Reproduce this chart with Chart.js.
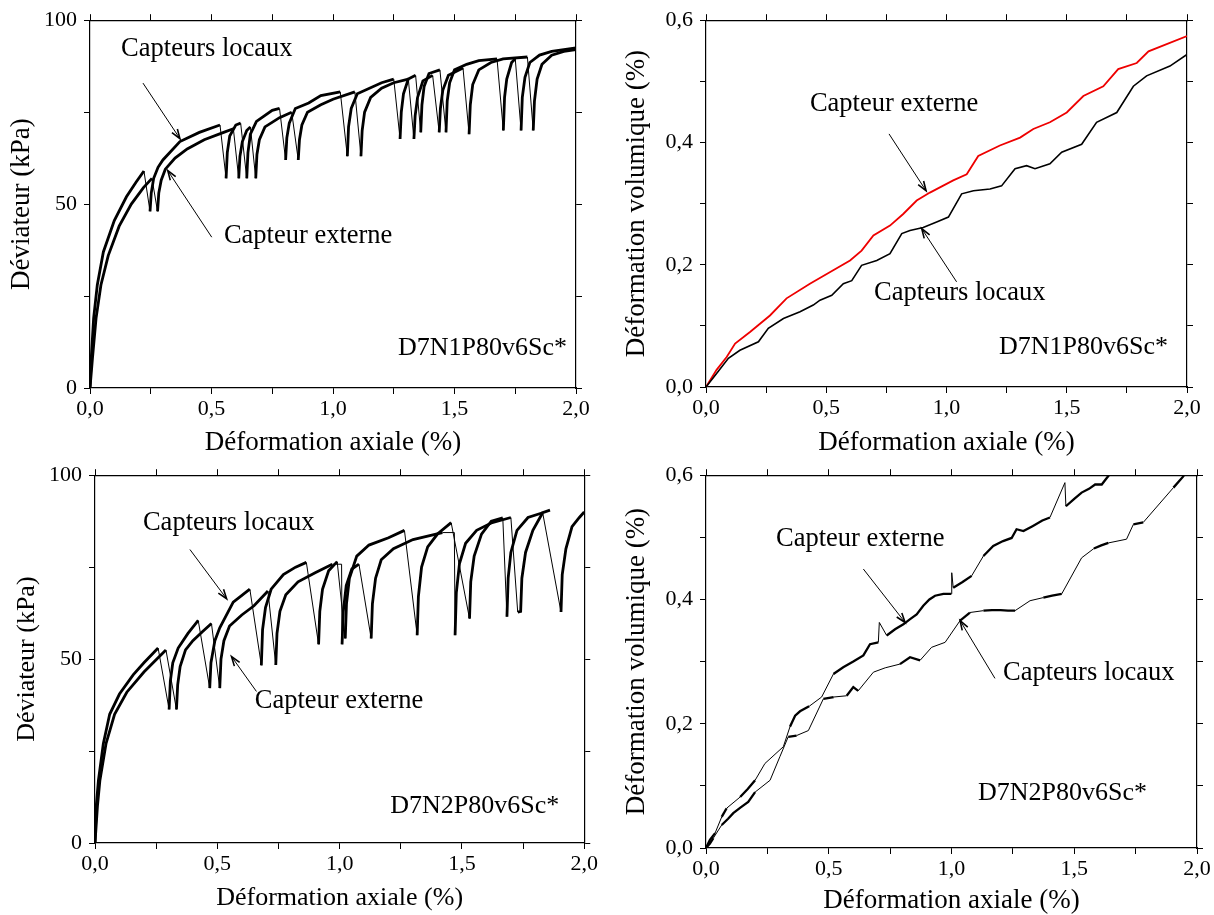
<!DOCTYPE html>
<html lang="fr">
<head>
<meta charset="UTF-8">
<title>Essais cycliques D7N1 / D7N2</title>
<script src="https://cdn.jsdelivr.net/npm/chart.js@4.4.1/dist/chart.umd.min.js"></script>
<style>
  html, body { margin: 0; padding: 0; background: #fff; overflow: hidden; }
  body { width: 1214px; height: 915px; position: relative; }
  canvas { position: absolute; }
</style>
</head>
<body>
<canvas id="c1" width="600" height="460" style="left:0;top:0"></canvas>
<canvas id="c2" width="608" height="460" style="left:606px;top:0"></canvas>
<canvas id="c3" width="600" height="462" style="left:0;top:455px"></canvas>
<canvas id="c4" width="608" height="462" style="left:606px;top:455px"></canvas>

<script>

  // D7N1P80v6Sc* : deviateur (kPa)
  const d1Locaux = [
    [0,0],[0.005,8],[0.015,19],[0.03,28],[0.055,37],[0.1,45.5],[0.15,52],[0.19,56],[0.222,59],
    [0.247,48],[0.252,53],[0.262,57],[0.28,60],[0.3,62],[0.37,67],[0.45,69.5],[0.535,71.5],
    [0.56,57],[0.565,64],[0.575,68.5],[0.6,71.5],[0.62,72],
    [0.645,57],[0.65,64],[0.66,69],[0.685,72.5],[0.75,75.5],[0.78,76],
    [0.805,62],[0.81,68],[0.82,72],[0.845,76],[0.9,77.5],[0.95,79.5],[1.03,80.5],
    [1.059,63],[1.064,71],[1.075,76],[1.1,80],[1.2,83],[1.25,84],
    [1.276,67.7],[1.281,75],[1.29,80],[1.31,84],[1.34,85],
    [1.361,69.5],[1.366,77],[1.375,82],[1.395,85.5],[1.44,86.5],
    [1.465,69.5],[1.47,78],[1.48,83],[1.5,86.5],[1.55,88],[1.6,89],[1.675,89.5],
    [1.701,70],[1.706,79],[1.715,84],[1.735,88.5],[1.75,89.5],
    [1.774,70],[1.779,79],[1.79,84.5],[1.81,88.5],[1.85,90.5],[1.9,91.5],[1.95,92],[2.0,92.5]
  ];
  const d1Externe = [
    [0,0],[0.01,8],[0.025,19],[0.045,28],[0.075,36],[0.12,44],[0.17,50],[0.22,54.5],[0.255,57],
    [0.278,48],[0.283,53],[0.293,56.5],[0.31,59.5],[0.35,62.5],[0.4,65],[0.47,67.5],[0.55,69.5],[0.59,70.5],
    [0.612,57],[0.617,63],[0.627,67],[0.645,70],[0.66,71],
    [0.682,57],[0.687,63.5],[0.697,67.5],[0.72,71],[0.78,73.5],[0.83,75],
    [0.857,62],[0.862,67.5],[0.872,71.5],[0.895,75],[0.95,77],[1.0,78.5],[1.09,80.5],
    [1.115,63],[1.12,70],[1.13,75],[1.155,79],[1.2,81.5],[1.25,83],[1.31,84],
    [1.333,67.7],[1.338,74],[1.348,79],[1.37,83.5],[1.41,85],
    [1.437,69.5],[1.442,76],[1.452,81],[1.475,85],[1.535,87],
    [1.56,69],[1.565,77],[1.575,82.5],[1.6,86.5],[1.65,88.5],[1.7,89.5],[1.8,90],
    [1.824,70],[1.829,78],[1.84,84],[1.86,88],[1.9,90.5],[1.95,91.5],[2.0,92]
  ];

  // D7N1P80v6Sc* : deformation volumique (%)
  const v1Externe = [
    [0,0],[0.044,0.028],[0.086,0.049],[0.121,0.071],[0.183,0.09],[0.266,0.117],[0.335,0.145],
    [0.432,0.169],[0.529,0.191],[0.599,0.207],[0.647,0.223],[0.696,0.248],[0.765,0.264],
    [0.82,0.283],[0.876,0.305],[0.931,0.318],[1.028,0.338],[1.084,0.348],[1.132,0.378],
    [1.222,0.395],[1.306,0.408],[1.361,0.422],[1.43,0.433],[1.5,0.449],[1.569,0.476],
    [1.652,0.492],[1.714,0.52],[1.791,0.53],[1.84,0.549],[2.0,0.574]
  ];
  const v1Locaux = [
    [0,0],[0.044,0.022],[0.093,0.047],[0.141,0.06],[0.218,0.074],[0.259,0.096],[0.322,0.112],
    [0.391,0.123],[0.446,0.134],[0.474,0.142],[0.523,0.15],[0.571,0.169],[0.606,0.174],
    [0.647,0.199],[0.71,0.207],[0.765,0.218],[0.814,0.251],[0.848,0.256],[0.903,0.261],
    [0.959,0.27],[1.008,0.278],[1.063,0.316],[1.112,0.321],[1.181,0.324],[1.229,0.329],
    [1.285,0.357],[1.333,0.362],[1.368,0.357],[1.43,0.365],[1.479,0.384],[1.562,0.397],
    [1.624,0.433],[1.708,0.449],[1.777,0.492],[1.832,0.509],[1.929,0.525],[2.0,0.544]
  ];

  // D7N2P80v6Sc* : deviateur (kPa)
  const d2Locaux = [
    [0,0],[0.005,10],[0.014,17],[0.034,27],[0.06,35],[0.1,40.5],[0.156,45.7],[0.2,49],[0.258,53],
    [0.303,36.3],[0.308,44],[0.318,49],[0.34,53],[0.38,57],[0.422,60.5],
    [0.469,42.1],[0.474,49],[0.49,55],[0.51,58.5],[0.565,65.5],[0.633,69],
    [0.68,48.3],[0.685,58],[0.697,64],[0.72,69],[0.77,73],[0.82,75],[0.864,76.3],
    [0.914,54],[0.919,63],[0.93,69],[0.955,74],[0.99,76.5],
    [1.023,55.6],[1.028,65],[1.04,72],[1.07,78],[1.12,81],[1.2,83],[1.265,85],
    [1.317,56.5],[1.322,67],[1.335,75],[1.36,80.5],[1.4,84],[1.456,87.1],
    [1.531,61],[1.536,71],[1.55,78],[1.58,84],[1.62,87.5],[1.667,88.4],
    [1.684,61.5],[1.689,72],[1.7,79],[1.725,85],[1.77,88.5],[1.83,89.8],
    [1.905,62.8],[1.91,73],[1.925,80],[1.95,86],[1.98,88.5],[2.0,90]
  ];
  const d2Externe = [
    [0,0],[0.01,10],[0.02,17],[0.045,27],[0.08,35],[0.13,41],[0.2,46.5],[0.26,50.5],[0.29,52.5],
    [0.333,36.3],[0.338,43],[0.348,48],[0.37,52.5],[0.4,55],[0.44,57.5],[0.476,59.7],
    [0.51,42.1],[0.515,50],[0.527,55],[0.55,59],[0.6,62],[0.65,64.5],[0.707,68.5],
    [0.739,48.4],[0.744,57],[0.756,63],[0.78,67.5],[0.83,71],[0.9,73.5],[0.97,75.8],[1.008,75.8],
    [1.01,54],[1.015,63],[1.027,70],[1.05,74.5],[1.079,75.8],
    [1.129,55.6],[1.134,65],[1.147,72],[1.17,77],[1.22,80],[1.3,82.5],[1.42,84.4],[1.469,84.4],
    [1.472,56.5],[1.477,68],[1.49,76],[1.515,81.5],[1.56,85],[1.62,87],[1.7,88.5],
    [1.728,62.8],[1.74,63],[1.745,72],[1.76,79],[1.79,85],[1.83,89.8],[1.86,90.5]
  ];

  // D7N2P80v6Sc* : deformation volumique (%)
  const v2Externe = [
    [0,0],[0.016,0.013],[0.037,0.024],[0.064,0.05],[0.084,0.064],[0.139,0.082],[0.17,0.095],
    [0.2,0.109],[0.24,0.136],[0.315,0.163],[0.342,0.195],[0.363,0.213],[0.383,0.22],[0.42,0.228],
    [0.471,0.243],[0.519,0.28],[0.559,0.291],[0.6,0.3],[0.641,0.31],[0.668,0.328],[0.702,0.331],
    [0.706,0.363],[0.736,0.342],[0.77,0.352],[0.804,0.36],[0.83,0.368],[0.858,0.376],[0.885,0.39],
    [0.91,0.4],[0.933,0.406],[0.967,0.409],[0.999,0.409],[1.001,0.443],[1.007,0.419],[1.045,0.428],
    [1.082,0.438],[1.13,0.47],[1.17,0.486],[1.21,0.494],[1.245,0.499],[1.265,0.513],[1.293,0.51],
    [1.33,0.518],[1.37,0.527],[1.401,0.532],[1.462,0.588],[1.466,0.55],[1.5,0.562],[1.53,0.572],
    [1.56,0.578],[1.585,0.585],[1.612,0.585],[1.643,0.601],[1.66,0.62]
  ];
  const v2Locaux = [
    [0,0],[0.016,0.007],[0.03,0.016],[0.064,0.037],[0.09,0.047],[0.111,0.056],[0.14,0.065],
    [0.172,0.074],[0.2,0.09],[0.261,0.109],[0.301,0.147],[0.335,0.179],[0.369,0.181],[0.417,0.189],
    [0.478,0.24],[0.52,0.243],[0.573,0.245],[0.6,0.259],[0.62,0.253],[0.682,0.283],[0.73,0.29],
    [0.79,0.296],[0.831,0.307],[0.872,0.302],[0.919,0.323],[0.974,0.331],[1.035,0.366],[1.075,0.379],
    [1.13,0.382],[1.165,0.383],[1.2,0.383],[1.23,0.382],[1.259,0.382],[1.32,0.398],[1.374,0.403],
    [1.41,0.406],[1.449,0.409],[1.53,0.467],[1.58,0.482],[1.61,0.487],[1.639,0.491],[1.713,0.497],
    [1.741,0.521],[1.781,0.524],[1.904,0.58],[1.944,0.598],[1.95,0.602]
  ];

  const xTicks = ['0,0', '0,5', '1,0', '1,5', '2,0'];

  const SERIF = '"Liberation Serif", "DejaVu Serif", serif';
  Chart.defaults.font.family = SERIF;
  Chart.defaults.color = '#000';

  function pts(arr) { return arr.map(p => ({ x: p[0], y: p[1] })); }
  function fmt1(v) { return v.toFixed(1).replace('.', ','); }

  // unloading parts of a cycle (falling or flat) are drawn thin
  const cycleWidth = ctx => ctx.p1.parsed.y <= ctx.p0.parsed.y ? 1 : 2.8;
  // sparse straight stretches of the volume curves are thin
  const sparseWidth = ctx => (ctx.p1.parsed.x - ctx.p0.parsed.x > 0.045 || Math.abs(ctx.p1.parsed.y - ctx.p0.parsed.y) > 0.02) ? 1 : 2.3;

  // text labels + arrows on top of the plot
  const annotate = {
    id: 'annotate',
    afterDatasetsDraw(chart, args, opts) {
      const { ctx } = chart;
      const x = chart.scales.x, y = chart.scales.y;
      ctx.save();
      ctx.fillStyle = '#000';
      ctx.strokeStyle = '#000';
      (opts.labels || []).forEach(l => {
        ctx.font = l.size + 'px ' + SERIF;
        ctx.textAlign = l.align || 'left';
        ctx.textBaseline = 'middle';
        ctx.fillText(l.text, x.getPixelForValue(l.x), y.getPixelForValue(l.y));
      });
      (opts.arrows || []).forEach(a => {
        const x0 = x.getPixelForValue(a[0]), y0 = y.getPixelForValue(a[1]);
        const x1 = x.getPixelForValue(a[2]), y1 = y.getPixelForValue(a[3]);
        ctx.lineWidth = 1;
        ctx.beginPath(); ctx.moveTo(x0, y0); ctx.lineTo(x1, y1); ctx.stroke();
        const ang = Math.atan2(y1 - y0, x1 - x0);
        ctx.lineWidth = 1.6;
        ctx.beginPath();
        ctx.moveTo(x1 - 10 * Math.cos(ang - 0.33), y1 - 10 * Math.sin(ang - 0.33));
        ctx.lineTo(x1, y1);
        ctx.lineTo(x1 - 10 * Math.cos(ang + 0.33), y1 - 10 * Math.sin(ang + 0.33));
        ctx.stroke();
      });
      ctx.restore();
    }
  };

  const grid = { drawOnChartArea: false, color: '#000', tickLength: 6, tickWidth: 1 };
  const border = { display: true, color: '#000', width: 1.2 };

  function makeChart(id, g, yAxis, datasets, notes) {
    const el = document.getElementById(id);
    const cl = parseFloat(el.style.left) || 0, ct = parseFloat(el.style.top) || 0;
    const leftW = g.area[0] - cl, topH = g.area[1] - ct;
    const rightW = cl + el.width - g.area[2], bottomH = ct + el.height - g.area[3];
    const half = g.titleSize * 0.6;
    const xPad = Math.max(0, ct + el.height - g.xTitle - half);
    const yPad = Math.max(0, g.yTitle - cl - half);

    new Chart(el, {
      type: 'line',
      data: { datasets },
      options: {
        responsive: false,
        animation: false,
        layout: { padding: 0 },
        elements: { point: { radius: 0 }, line: { tension: 0 } },
        plugins: { legend: { display: false }, tooltip: { enabled: false }, annotate: notes },
        scales: {
          x: {
            type: 'linear', position: 'bottom', min: 0, max: 2,
            afterFit: s => { s.height = bottomH; },
            grid, border,
            ticks: {
              stepSize: 0.25, autoSkip: false, maxRotation: 0, padding: 2, font: { size: 22 },
              callback: v => Math.abs(v * 2 - Math.round(v * 2)) < 1e-6 ? xTicks[Math.round(v * 2)] : ''
            },
            title: { display: true, text: 'Déformation axiale (%)', font: { size: g.titleSize }, padding: { top: 0, bottom: xPad } }
          },
          xTop: {
            type: 'linear', position: 'top', min: 0, max: 2,
            afterFit: s => { s.height = topH; },
            grid, border,
            ticks: { stepSize: 0.25, autoSkip: false, maxRotation: 0, callback: () => '' }
          },
          y: {
            type: 'linear', position: 'left', min: 0, max: yAxis.max,
            afterFit: s => { s.width = leftW; },
            grid, border,
            ticks: { stepSize: yAxis.step, autoSkip: false, padding: 7, font: { size: 22 }, callback: yAxis.label },
            title: { display: true, text: yAxis.title, font: { size: g.titleSize }, padding: { top: yPad, bottom: 0 } }
          },
          yRight: {
            type: 'linear', position: 'right', min: 0, max: yAxis.max,
            afterFit: s => { s.width = rightW; },
            grid, border,
            ticks: { stepSize: yAxis.step, autoSkip: false, callback: () => '' }
          }
        }
      },
      plugins: [annotate]
    });
  }

  const kpa = {
    max: 100, step: 25, title: 'Déviateur (kPa)',
    label: v => (Math.round(v) % 50 === 0 ? String(Math.round(v)) : '')
  };
  const vol = {
    max: 0.6, step: 0.1, title: 'Déformation volumique (%)',
    label: v => (Math.round(v * 10) % 2 === 0 ? fmt1(v) : '')
  };

  function ds(label, arr, color, segWidth) {
    return {
      label, data: pts(arr), borderColor: color, backgroundColor: color,
      borderWidth: 2, segment: { borderWidth: segWidth }, fill: false
    };
  }

  makeChart('c1', { area: [90, 19, 576, 388], xTitle: 443, yTitle: 22, titleSize: 27 }, kpa, [
    ds('Capteur externe', d1Externe, '#000', cycleWidth),
    ds('Capteurs locaux', d1Locaux, '#000', cycleWidth)
  ], {
    labels: [
      { text: 'Capteurs locaux', x: 0.128, y: 92.1, size: 26.5 },
      { text: 'Capteur externe', x: 0.551, y: 41.2, size: 26.5 },
      { text: 'D7N1P80v6Sc*', x: 1.963, y: 10.8, size: 26 , align: 'right' }
    ],
    arrows: [[0.218, 82.9, 0.370, 67.8], [0.501, 41.0, 0.320, 59.1]]
  });

  makeChart('c2', { area: [706, 19, 1187, 387], xTitle: 443, yTitle: 637, titleSize: 27 }, vol, [
    ds('Capteurs locaux', v1Locaux, '#000', () => 1.6),
    ds('Capteur externe', v1Externe, '#ee0000', () => 1.8)
  ], {
    labels: [
      { text: 'Capteur externe', x: 0.432, y: 0.463, size: 26.5 },
      { text: 'Capteurs locaux', x: 0.699, y: 0.153, size: 26.5 },
      { text: 'D7N1P80v6Sc*', x: 1.921, y: 0.065, size: 26, align: 'right' }
    ],
    arrows: [[0.761, 0.414, 0.915, 0.321], [1.042, 0.172, 0.897, 0.259]]
  });

  makeChart('c3', { area: [95, 472, 585, 843], xTitle: 898, yTitle: 27, titleSize: 26 }, kpa, [
    ds('Capteur externe', d2Externe, '#000', cycleWidth),
    ds('Capteurs locaux', d2Locaux, '#000', cycleWidth)
  ], {
    labels: [
      { text: 'Capteurs locaux', x: 0.196, y: 87.1, size: 26.5 },
      { text: 'Capteur externe', x: 0.653, y: 38.5, size: 26.5 },
      { text: 'D7N2P80v6Sc*', x: 1.898, y: 10, size: 26, align: 'right' }
    ],
    arrows: [[0.388, 79.8, 0.538, 66.4], [0.660, 41.2, 0.558, 50.7]]
  });

  makeChart('c4', { area: [706, 474, 1197, 848], xTitle: 903, yTitle: 637, titleSize: 27 }, vol, [
    ds('Capteur externe', v2Externe, '#000', sparseWidth),
    ds('Capteurs locaux', v2Locaux, '#000', sparseWidth)
  ], {
    labels: [
      { text: 'Capteur externe', x: 0.285, y: 0.497, size: 26.5 },
      { text: 'Capteurs locaux', x: 1.210, y: 0.281, size: 26.5 },
      { text: 'D7N2P80v6Sc*', x: 1.796, y: 0.088, size: 26, align: 'right' }
    ],
    arrows: [[0.641, 0.449, 0.811, 0.363], [1.177, 0.273, 1.035, 0.366]]
  });
</script>
</body>
</html>
